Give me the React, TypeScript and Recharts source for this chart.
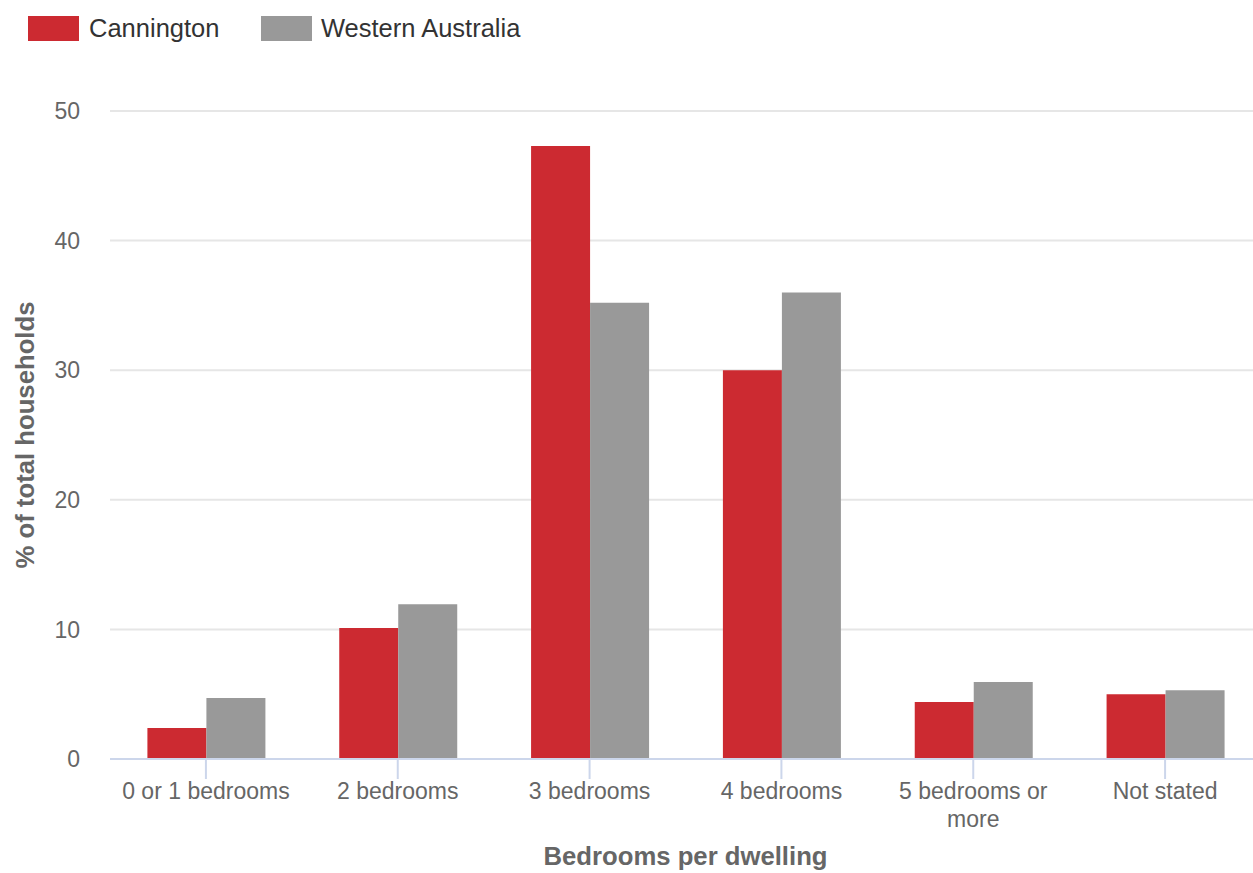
import React from 'react';
import { BarChart, Bar, XAxis, YAxis, CartesianGrid, Legend } from 'recharts';

const categories = ['0 or 1 bedrooms', '2 bedrooms', '3 bedrooms', '4 bedrooms', '5 bedrooms or more', 'Not stated'];
const cannington = [2.4, 10.1, 47.3, 30.0, 4.4, 5.0];
const westernAustralia = [4.7, 11.95, 35.2, 36.0, 5.95, 5.3];
const yTicks = [0, 10, 20, 30, 40, 50];

const seriesNames = { cannington: 'Cannington', wa: 'Western Australia' };
const RED = '#cc2a31';
const GREY = '#999999';
const FONT = '"Liberation Sans", Arial, sans-serif';

const data = categories.map((name, i) => ({
  name,
  cannington: cannington[i],
  wa: westernAustralia[i],
}));

// greedy word wrap, measured with a canvas
let ctx: CanvasRenderingContext2D | null = null;
const wrapWords = (label: string, maxWidth: number, font: string) => {
  if (!ctx) ctx = document.createElement('canvas').getContext('2d');
  const measure = (s: string) => {
    if (!ctx) return s.length * 12;
    ctx.font = font;
    return ctx.measureText(s).width;
  };
  const lines: string[] = [];
  let cur = '';
  for (const w of label.split(' ')) {
    const next = cur ? cur + ' ' + w : w;
    if (cur && measure(next) > maxWidth) {
      lines.push(cur);
      cur = w;
    } else {
      cur = next;
    }
  }
  if (cur) lines.push(cur);
  return lines;
};

const CategoryTick = (props: any) => {
  const { x, y, payload } = props;
  const lines = wrapWords(String(payload.value), 180, `23px ${FONT}`);
  return (
    <text x={x} y={y} textAnchor="middle" style={{ fontSize: 23, fill: '#666666', fontFamily: FONT }}>
      {lines.map((l, i) => (
        <tspan key={i} x={x} dy={i === 0 ? 16.5 : 28}>
          {l}
        </tspan>
      ))}
    </text>
  );
};

const YTitle = (props: any) => {
  const vb = props.viewBox || { x: 0, y: 111, width: 110, height: 648 };
  const cy = vb.y + vb.height / 2;
  return (
    <text
      x={25}
      y={cy}
      transform={`rotate(-90, 25, ${cy})`}
      textAnchor="middle"
      dominantBaseline="central"
      style={{ fontSize: 25.7, fontWeight: 'bold', fill: '#666666', fontFamily: FONT }}
    >
      % of total households
    </text>
  );
};

const XTitle = (props: any) => {
  const vb = props.viewBox || { x: 110, y: 759, width: 1151, height: 114 };
  return (
    <text
      x={vb.x + vb.width / 2}
      y={865}
      textAnchor="middle"
      style={{ fontSize: 25.7, fontWeight: 'bold', fill: '#666666', fontFamily: FONT }}
    >
      Bedrooms per dwelling
    </text>
  );
};

const LegendBox = () => (
  <div style={{ height: 111, position: 'relative', fontFamily: FONT, fontSize: 25.5, color: '#333333' }}>
    <div style={{ position: 'absolute', left: 28, top: 16, width: 51, height: 25, background: RED }} />
    <div style={{ position: 'absolute', left: 89, top: 13, lineHeight: '30px' }}>{seriesNames.cannington}</div>
    <div style={{ position: 'absolute', left: 261, top: 16, width: 51, height: 25, background: GREY }} />
    <div style={{ position: 'absolute', left: 321, top: 13, lineHeight: '30px' }}>{seriesNames.wa}</div>
  </div>
);

export default function App() {
  return (
    <div style={{ position: 'absolute', left: 0, top: 0, width: 1253, height: 873, overflow: 'hidden', background: '#fff' }}>
      <BarChart
        width={1261}
        height={873}
        data={data}
        margin={{ top: 0, right: 0, left: 0, bottom: 0 }}
        barCategoryGap="19.5%"
        barGap={0}
      >
        <Legend
          verticalAlign="top"
          align="left"
          content={<LegendBox />}
          wrapperStyle={{ top: 0, left: 0, width: 1261, height: 111 }}
        />
        <CartesianGrid vertical={false} stroke="#e6e6e6" strokeWidth={2} />
        <XAxis
          dataKey="name"
          height={114}
          interval={0}
          tick={<CategoryTick />}
          tickSize={20}
          tickMargin={3}
          tickLine={{ stroke: '#ccd6eb', strokeWidth: 2 }}
          axisLine={{ stroke: '#ccd6eb', strokeWidth: 2 }}
          label={XTitle}
        />
        <YAxis
          width={110}
          domain={[0, 50]}
          ticks={yTicks}
          axisLine={false}
          tickLine={false}
          tickSize={30}
          tickMargin={0}
          tick={{ fontSize: 23, fill: '#666666', fontFamily: FONT }}
          label={YTitle}
        />
        <Bar dataKey="cannington" name={seriesNames.cannington} fill={RED} isAnimationActive={false} />
        <Bar dataKey="wa" name={seriesNames.wa} fill={GREY} isAnimationActive={false} />
      </BarChart>
    </div>
  );
}
